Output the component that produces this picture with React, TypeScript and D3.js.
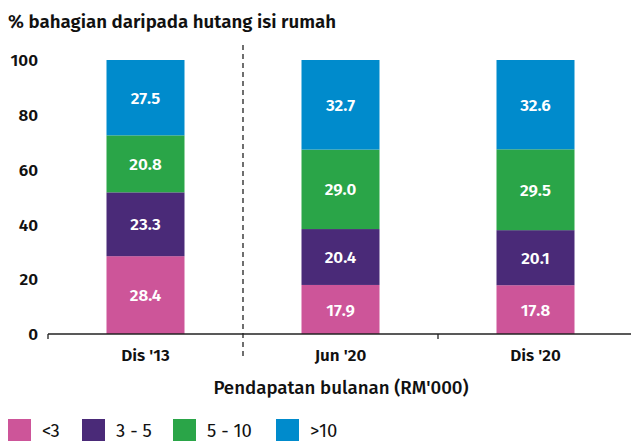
import React from "react";
import * as d3 from "d3";

const categories = ["Dis '13", "Jun '20", "Dis '20"];
const seriesNames = ["<3", "3 - 5", "5 - 10", ">10"];
const lt3 = [28.4, 17.9, 17.8];
const s3to5 = [23.3, 20.4, 20.1];
const s5to10 = [20.8, 29.0, 29.5];
const gt10 = [27.5, 32.7, 32.6];
const yTicks = [0, 20, 40, 60, 80, 100];
const colors = ["#cd5599", "#4a2a78", "#2aa548", "#008bcc"];

const W = 631;
const H = 441;
const FONT = "'Fira Sans', 'Open Sans', 'Noto Sans', sans-serif";

export default function App() {
  const seriesVals = [lt3, s3to5, s5to10, gt10];
  const rows = categories.map((c, i) => {
    const r: any = { cat: c };
    seriesNames.forEach((s, k) => (r[s] = seriesVals[k][i]));
    return r;
  });
  const stack = d3.stack<any>().keys(seriesNames)(rows);
  const x = d3.scaleBand<string>().domain(categories).range([48, 633]).paddingInner(0.6).paddingOuter(0.3);
  const y = d3.scaleLinear().domain([0, 100]).range([334, 60]);
  const step = x.step();
  const x0 = 48;

  const legendX = [8, 82, 173, 276];

  return (
    <svg width={W} height={H} style={{ position: "absolute", left: 0, top: 0 }} fontFamily={FONT}>
      <rect width={W} height={H} fill="#fff" />
      <text x={8} y={28} fontSize={18.7} fontWeight={600} fill="#111">% bahagian daripada hutang isi rumah</text>
      {yTicks.map((t) => (
        <text key={t} x={38} y={y(t)} dy="0.36em" textAnchor="end" fontSize={17} fontWeight={600} fill="#111">{t}</text>
      ))}
      {stack.map((layer, k) => (
        <g key={layer.key}>
          {layer.map((d, i) => (
            <g key={i}>
              <rect x={x(categories[i])!} width={x.bandwidth()} y={y(d[1])} height={y(d[0]) - y(d[1])} fill={colors[k]} />
              <text x={x(categories[i])! + x.bandwidth() / 2} y={(y(d[0]) + y(d[1])) / 2} dy="0.36em" textAnchor="middle" fontSize={17} fontWeight={600} fill="#fff">
                {seriesVals[k][i].toFixed(1)}
              </text>
            </g>
          ))}
        </g>
      ))}
      <line x1={x0} x2={W} y1={334} y2={334} stroke="#222" strokeWidth={1.3} />
      <line x1={x0} x2={x0} y1={334} y2={339} stroke="#222" strokeWidth={1.3} />
      <line x1={x0 + step * 2} x2={x0 + step * 2} y1={334} y2={339} stroke="#222" strokeWidth={1.3} />
      <line x1={x0 + step} x2={x0 + step} y1={45} y2={356} stroke="#222" strokeWidth={1.3} strokeDasharray="5,4" />
      {categories.map((c) => (
        <text key={c} x={x(c)! + x.bandwidth() / 2} y={361} textAnchor="middle" fontSize={17} fontWeight={600} fill="#111">{c}</text>
      ))}
      <text x={341} y={394} textAnchor="middle" fontSize={18.7} fontWeight={500} fill="#111">Pendapatan bulanan (RM'000)</text>
      {seriesNames.map((s, k) => (
        <g key={s}>
          <rect x={legendX[k]} y={419} width={23} height={22} fill={colors[k]} />
          <text x={legendX[k] + 34} y={430} dy="0.36em" fontSize={18.5} fill="#111">{s}</text>
        </g>
      ))}
    </svg>
  );
}
